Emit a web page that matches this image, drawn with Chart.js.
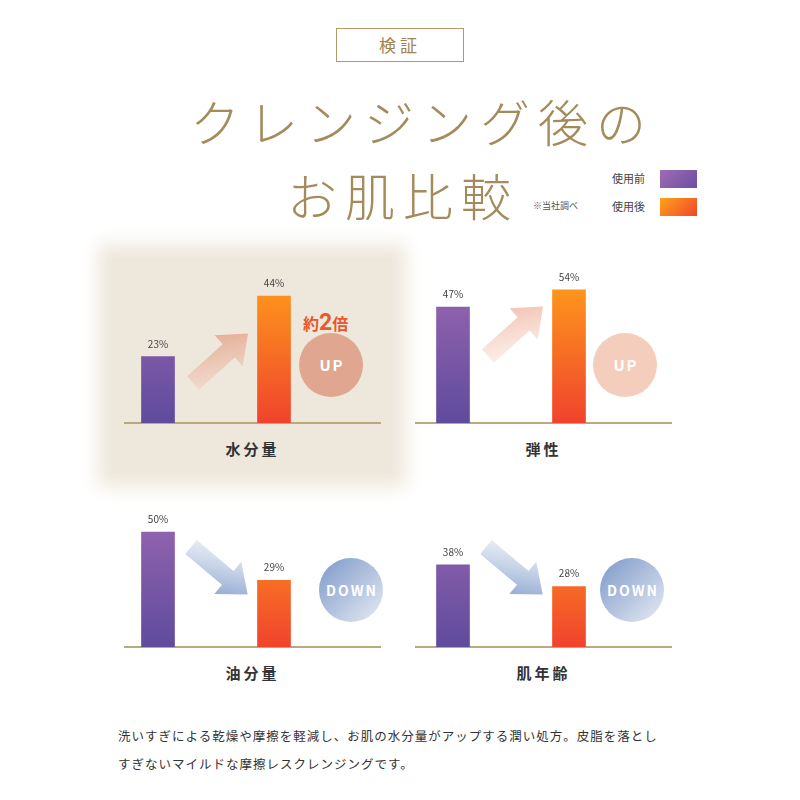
<!DOCTYPE html><html><head><meta charset="utf-8">
<script src="https://cdn.jsdelivr.net/npm/chart.js@4"></script>
<style>
body{margin:0;width:800px;height:800px;background:#fff;position:relative;font-family:"Noto Sans CJK JP",sans-serif;overflow:hidden}
.a{position:absolute}
.t{color:#a48b5c;font-weight:300;letter-spacing:8px;white-space:nowrap}
.lbl{font-size:15px;font-weight:bold;color:#333;letter-spacing:3px;width:257px;text-align:center}
.base{height:2px;background:#bba97d;width:257px}
</style></head><body>
<div class="a" style="left:336px;top:28px;width:128px;height:34px;border:1.5px solid #b39a68;box-sizing:border-box;text-align:center;line-height:31px;color:#9c8455;font-size:17px;letter-spacing:4px">検証</div>
<div class="a t" style="left:190px;top:84px;font-size:50px">クレンジング後の</div>
<div class="a t" style="left:287px;top:158px;font-size:50px">お肌比較</div>
<div class="a" style="left:533px;top:199px;font-size:9px;color:#555">※当社調べ</div>
<div class="a" style="left:612px;top:170px;font-size:11px;color:#444">使用前</div>
<div class="a" style="left:612px;top:198px;font-size:11px;color:#444">使用後</div>
<div class="a" style="left:660px;top:170px;width:37px;height:18px;background:linear-gradient(135deg,#a06cb4,#6a4fa2)"></div>
<div class="a" style="left:660px;top:198px;width:37px;height:18px;background:linear-gradient(135deg,#ffa31a,#f0452c)"></div>
<div class="a" style="left:112px;top:258px;width:280px;height:215px;background:#eee8dc;box-shadow:0 0 18px 14px #eee8dc"></div>

<svg class="a" style="left:0;top:0" width="800" height="800">
<defs>
<linearGradient id="pk" x1="0" y1="1" x2="1" y2="0"><stop offset="0" stop-color="#f3d8cc" stop-opacity=".6"/><stop offset="1" stop-color="#e2a287"/></linearGradient>
<linearGradient id="pk2" x1="0" y1="1" x2="1" y2="0"><stop offset="0" stop-color="#fbeae3" stop-opacity=".6"/><stop offset="1" stop-color="#efb9a4"/></linearGradient>
<linearGradient id="bl" x1="0" y1="0" x2="1" y2="1"><stop offset="0" stop-color="#e7edf6" stop-opacity=".6"/><stop offset="1" stop-color="#7b98c8"/></linearGradient>
<linearGradient id="dc" x1="0" y1="0" x2="1" y2="1"><stop offset="0" stop-color="#7c98c8"/><stop offset="1" stop-color="#e6ebf3"/></linearGradient>
<g id="arrow"><polygon points="0,-9 48,-9 48,-21 74,0 48,21 48,9 0,9"/></g>
</defs>
<use href="#arrow" fill="url(#pk)" transform="translate(193,383) rotate(-42)"/>
<use href="#arrow" fill="url(#pk2)" transform="translate(488,356) rotate(-42)"/>
<use href="#arrow" fill="url(#bl)" transform="translate(191,547) rotate(40)"/>
<use href="#arrow" fill="url(#bl)" transform="translate(486,547) rotate(40)"/>
<circle cx="331" cy="365" r="32" fill="#e0a690"/>
<circle cx="625" cy="365" r="32" fill="#f4cdbd"/>
<circle cx="351" cy="590" r="32" fill="url(#dc)"/>
<circle cx="632" cy="590" r="32" fill="url(#dc)"/>
<g font-family="Noto Sans CJK JP" font-weight="bold" fill="#fff" text-anchor="middle" letter-spacing="2">
<text x="332" y="371" font-size="15">UP</text><text x="626" y="371" font-size="15">UP</text>
<text x="352" y="596" font-size="14">DOWN</text><text x="633" y="596" font-size="14">DOWN</text></g>
<text x="303" y="330" font-family="Noto Sans CJK JP" font-weight="bold" fill="#e9572b" font-size="16">約<tspan font-size="23" font-family="Roboto">2</tspan>倍</text>
</svg>

<div class="a base" style="left:124px;top:422px"></div>
<div class="a base" style="left:415px;top:422px"></div>
<div class="a base" style="left:124px;top:646px"></div>
<div class="a base" style="left:415px;top:646px"></div>
<div class="a lbl" style="left:124px;top:438px">水分量</div>
<div class="a lbl" style="left:415px;top:438px">弾性</div>
<div class="a lbl" style="left:124px;top:662px">油分量</div>
<div class="a lbl" style="left:415px;top:662px">肌年齢</div>

<div class="a" style="left:100px;top:250px;width:232px;height:173px"><canvas id="c0"></canvas></div>
<div class="a" style="left:395px;top:250px;width:232px;height:173px"><canvas id="c1"></canvas></div>
<div class="a" style="left:100px;top:480px;width:232px;height:167px"><canvas id="c2"></canvas></div>
<div class="a" style="left:395px;top:480px;width:232px;height:167px"><canvas id="c3"></canvas></div>

<div class="a" style="left:118px;top:722px;font-size:12.5px;color:#333;line-height:28px;letter-spacing:1px">洗いすぎによる乾燥や摩擦を軽減し、お肌の水分量がアップする潤い処方。皮脂を落とし<br>すぎないマイルドな摩擦レスクレンジングです。</div>

<script>
const categories=['使用前','使用後'];
const moisture=[23,44];
const elasticity=[47,54];
const oil=[50,29];
const skinAge=[38,28];
const panelMax=[53,62,64,68];
const series=[moisture,elasticity,oil,skinAge];

const valLabels={id:'vl',afterDatasetsDraw(ch){const c=ch.ctx;const m=ch.getDatasetMeta(0);c.save();c.font='10px "Noto Sans CJK JP"';c.fillStyle='#444';c.textAlign='center';
m.data.forEach((b,i)=>c.fillText(ch.data.datasets[0].data[i]+'%',b.x,b.y-9));c.restore();}};
function grad(ctx){const ch=ctx.chart,a=ch.chartArea;if(!a)return '#888';const el=ctx.element;const y0=el&&el.y?el.y:a.top;
const g=ch.ctx.createLinearGradient(0,y0,0,a.bottom);
if(ctx.dataIndex===0){g.addColorStop(0,'#9c68b2');g.addColorStop(1,'#5f4b9d');}else{g.addColorStop(0,'#ffa11a');g.addColorStop(1,'#f0432d');}return g;}
series.forEach((d,k)=>{new Chart(document.getElementById('c'+k),{type:'bar',
data:{labels:categories,datasets:[{data:d,backgroundColor:grad,barThickness:33}]},
options:{responsive:true,maintainAspectRatio:false,animation:false,layout:{padding:{top:20}},
plugins:{legend:{display:false},tooltip:{enabled:false}},
scales:{x:{display:false},y:{display:false,min:0,max:panelMax[k]}}},plugins:[valLabels]});});
</script>
</body></html>
